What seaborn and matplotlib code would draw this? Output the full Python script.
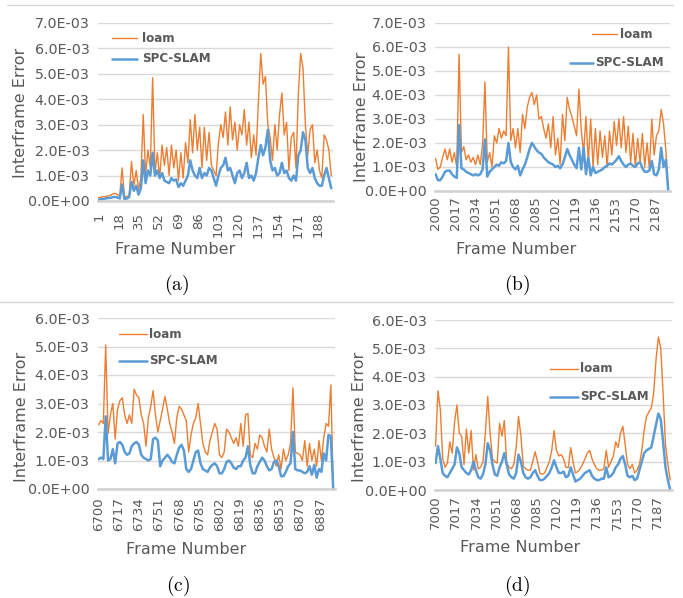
import numpy as np
import pandas as pd
import matplotlib
matplotlib.use("Agg")
import matplotlib.pyplot as plt
from matplotlib.lines import Line2D
from matplotlib.ticker import FuncFormatter
import seaborn as sns

sns.set_style("white")
plt.rcParams["font.family"] = ["DejaVu Sans"]
plt.rcParams["mathtext.fontset"] = "cm"

W, H = 683, 598
ORANGE = "#ED7D31"
BLUE = "#5B9BD5"
TXT = "#595959"
GRID = "#D9D9D9"

# interframe error, in units of 1E-03, one value every 2 frames
a_loam = [0.13, 0.15, 0.17, 0.18, 0.20, 0.22, 0.28, 0.30, 0.25, 0.20,
          1.30, 0.15, 0.18, 0.20, 1.55, 0.60, 1.20, 0.45, 0.90, 3.40,
          1.00, 2.00, 1.30, 4.85, 1.10, 1.90, 0.90, 2.20, 1.40, 2.10,
          1.00, 2.20, 1.30, 2.00, 0.80, 1.90, 0.90, 2.30, 1.50, 3.20,
          1.90, 3.40, 2.00, 2.90, 1.30, 2.90, 1.60, 2.70, 1.40, 1.20,
          1.00, 2.30, 3.00, 2.50, 3.50, 2.20, 3.70, 2.40, 3.10, 2.00,
          3.00, 2.60, 3.60, 2.20, 3.10, 1.70, 2.60, 1.80, 3.90, 5.80,
          4.60, 4.90, 3.00, 2.50, 1.60, 3.00, 2.00, 3.40, 4.25, 2.60,
          3.10, 1.20, 2.50, 2.70, 1.30, 4.20, 5.80, 5.20, 3.00, 1.80,
          2.80, 3.00, 1.50, 2.00, 1.20, 0.90, 2.60, 2.40, 2.00, 1.00]
a_spc = [0.05, 0.07, 0.08, 0.10, 0.12, 0.12, 0.15, 0.16, 0.14, 0.10,
         0.65, 0.08, 0.10, 0.15, 0.75, 0.40, 0.60, 0.25, 0.50, 1.60,
         0.70, 1.20, 1.00, 1.90, 1.00, 1.20, 0.90, 1.10, 0.80, 0.75,
         0.70, 0.90, 0.80, 0.85, 0.55, 0.70, 0.60, 0.80, 1.00, 1.60,
         1.20, 1.00, 0.90, 1.30, 0.90, 1.10, 1.00, 1.30, 1.20, 0.90,
         0.60, 1.00, 1.30, 1.40, 1.70, 1.20, 1.30, 1.00, 0.70, 1.10,
         1.20, 0.90, 1.10, 1.50, 0.90, 1.00, 0.80, 1.10, 1.70, 2.20,
         1.80, 2.10, 2.80, 1.60, 1.20, 1.30, 1.00, 1.10, 1.50, 1.10,
         1.20, 0.90, 0.80, 1.00, 0.80, 1.80, 2.00, 2.70, 2.40, 1.30,
         1.10, 1.30, 0.90, 0.70, 0.60, 0.60, 1.00, 1.30, 0.90, 0.50]

b_loam = [1.35, 0.90, 1.00, 1.40, 1.75, 1.30, 1.75, 1.20, 1.60, 1.00,
          5.70, 1.60, 1.85, 1.30, 1.50, 1.20, 1.40, 1.10, 1.50, 1.10,
          1.95, 4.55, 1.20, 1.60, 1.00, 2.30, 2.00, 2.60, 2.20, 2.50,
          2.30, 6.00, 2.10, 2.60, 1.80, 2.60, 1.60, 3.20, 2.60, 3.50,
          3.90, 4.10, 3.60, 4.00, 3.00, 3.10, 2.60, 2.20, 2.80, 1.80,
          3.10, 1.50, 2.20, 1.10, 3.20, 2.10, 3.90, 3.40, 3.10, 2.70,
          2.30, 4.25, 2.50, 1.60, 3.10, 1.20, 3.00, 1.00, 2.60, 1.10,
          2.50, 1.40, 2.30, 1.00, 2.50, 1.50, 2.90, 1.90, 3.00, 1.80,
          3.10, 1.60, 2.70, 1.20, 2.40, 1.00, 2.20, 1.20, 2.40, 1.00,
          2.00, 0.90, 3.00, 1.50, 2.30, 2.50, 3.40, 2.80, 1.70, 0.00]
b_spc = [0.70, 0.45, 0.45, 0.60, 0.80, 0.85, 0.85, 0.70, 0.60, 0.55,
         2.75, 0.95, 0.90, 0.80, 0.75, 0.70, 0.65, 0.70, 0.65, 0.70,
         0.90, 2.15, 0.60, 0.80, 0.90, 1.00, 1.10, 1.05, 1.20, 1.15,
         1.25, 2.00, 1.20, 1.00, 0.90, 1.05, 0.65, 0.90, 1.10, 1.40,
         1.75, 2.00, 1.85, 1.70, 1.60, 1.55, 1.40, 1.30, 1.20, 1.15,
         1.10, 1.00, 1.05, 0.95, 1.10, 1.40, 1.75, 1.50, 1.30, 1.10,
         0.95, 1.80, 0.90, 1.80, 0.70, 1.40, 0.65, 1.00, 0.75, 0.80,
         0.85, 0.90, 1.00, 1.05, 1.15, 1.10, 1.20, 1.30, 1.45, 1.25,
         1.10, 1.00, 1.10, 1.15, 1.05, 1.00, 1.15, 1.20, 0.95, 0.80,
         0.80, 0.85, 1.25, 0.70, 0.65, 0.90, 1.80, 1.00, 1.30, 0.00]

c_loam = [2.25, 2.40, 2.30, 5.05, 1.95, 2.60, 3.00, 1.75, 2.80, 3.10,
          3.20, 2.60, 2.30, 2.60, 2.30, 3.50, 3.30, 3.20, 2.60, 2.30,
          1.50, 2.50, 2.90, 3.45, 2.60, 2.00, 2.40, 2.80, 3.25, 2.80,
          2.30, 2.00, 1.60, 2.50, 2.90, 2.80, 2.60, 2.40, 1.30, 1.90,
          2.30, 2.50, 3.00, 2.30, 1.60, 1.30, 1.20, 1.70, 2.00, 2.30,
          2.10, 1.20, 1.10, 1.30, 2.10, 2.00, 1.80, 1.60, 1.80, 1.50,
          2.30, 1.50, 2.60, 2.65, 1.20, 1.10, 1.60, 1.40, 1.90, 1.80,
          1.50, 1.30, 2.10, 1.40, 1.10, 0.80, 1.20, 0.70, 1.40, 1.00,
          1.20, 1.60, 3.55, 1.30, 1.25, 1.20, 1.00, 1.70, 0.80, 1.60,
          1.00, 1.40, 0.80, 1.70, 1.00, 1.80, 2.30, 2.20, 3.65, 0.00]
c_spc = [1.05, 1.10, 1.05, 2.55, 1.00, 1.05, 1.40, 0.90, 1.60, 1.65,
         1.55, 1.30, 1.20, 1.25, 1.50, 1.60, 1.65, 1.55, 1.20, 1.10,
         1.05, 1.00, 1.05, 1.75, 1.80, 1.70, 0.80, 1.00, 1.10, 1.20,
         1.10, 0.95, 0.90, 1.20, 1.45, 1.55, 1.35, 0.70, 0.60, 0.70,
         1.00, 1.30, 1.35, 0.90, 0.70, 0.65, 0.60, 0.75, 0.85, 0.90,
         0.80, 0.55, 0.55, 0.70, 0.95, 1.00, 0.90, 0.75, 0.70, 0.80,
         0.80, 1.00, 1.10, 1.50, 0.85, 0.55, 0.55, 0.80, 0.95, 1.10,
         1.00, 0.80, 0.65, 0.70, 0.95, 1.00, 0.80, 0.45, 0.45, 0.60,
         0.80, 0.90, 2.00, 0.70, 0.65, 0.65, 0.60, 0.55, 0.60, 0.80,
         0.50, 0.85, 0.40, 0.70, 0.60, 1.25, 1.00, 1.90, 1.85, 0.00]

d_loam = [1.55, 3.50, 2.85, 1.10, 0.80, 0.95, 1.70, 1.30, 2.40, 3.00,
          2.00, 1.90, 0.90, 2.15, 1.30, 2.10, 0.70, 1.25, 0.75, 0.80,
          1.00, 2.00, 3.30, 2.00, 1.10, 1.00, 0.95, 2.35, 1.90, 2.45,
          0.95, 0.80, 0.75, 0.90, 1.50, 2.60, 1.90, 0.85, 0.75, 0.70,
          0.70, 1.00, 1.35, 1.00, 0.60, 0.55, 0.60, 0.80, 1.00, 1.40,
          2.10, 1.40, 1.20, 1.25, 1.10, 0.80, 0.80, 1.50, 1.00, 0.60,
          0.65, 0.75, 0.90, 1.10, 1.30, 1.40, 1.10, 0.90, 0.75, 0.70,
          0.70, 0.75, 1.40, 0.80, 1.00, 1.20, 1.70, 1.50, 2.00, 2.25,
          1.60, 0.90, 0.75, 0.90, 0.60, 0.70, 0.90, 1.40, 2.10, 2.60,
          2.75, 2.90, 3.40, 4.60, 5.40, 5.00, 3.40, 1.60, 0.90, 0.35]
d_spc = [0.95, 1.55, 1.10, 0.60, 0.50, 0.45, 0.60, 0.75, 0.90, 1.50,
         1.30, 0.80, 0.70, 0.60, 0.55, 0.70, 1.00, 0.70, 0.45, 0.40,
         0.55, 0.90, 1.65, 1.40, 0.90, 0.55, 0.50, 0.80, 1.00, 1.30,
         0.90, 0.55, 0.45, 0.40, 0.60, 1.25, 1.00, 0.60, 0.45, 0.40,
         0.45, 0.60, 0.70, 0.50, 0.35, 0.35, 0.40, 0.50, 0.60, 0.80,
         1.05, 0.80, 0.60, 0.60, 0.65, 0.45, 0.50, 0.80, 0.55, 0.30,
         0.35, 0.40, 0.50, 0.60, 0.65, 0.70, 0.50, 0.40, 0.35, 0.35,
         0.40, 0.40, 0.80, 0.45, 0.50, 0.60, 0.80, 0.90, 1.10, 1.20,
         0.90, 0.50, 0.45, 0.50, 0.35, 0.40, 0.70, 1.00, 1.30, 1.40,
         1.45, 1.50, 1.90, 2.30, 2.70, 2.50, 1.70, 0.80, 0.35, 0.00]

first_frames = [1, 2000, 6700, 7000]
y_max = [7, 7, 6, 6]
captions = ["(a)", "(b)", "(c)", "(d)"]
series = [(a_loam, a_spc), (b_loam, b_spc), (c_loam, c_spc), (d_loam, d_spc)]

# layout in pixels: axes box (left, right, top, bottom), legend spots, labels
boxes = [(98, 333, 23, 201), (435, 670, 23, 191), (98, 335, 318, 489), (435, 672, 320, 490)]
xtick_pad = [8, 4, 6, 4]
legends = [[(112, 137, 38, 142), (112, 137, 59, 142)],
           [(592, 617, 34, 620), (570, 593, 63, 595)],
           [(119, 147, 334, 149), (119, 147, 361, 149)],
           [(550, 578, 369, 580), (550, 578, 397, 580)]]
ylab_pos = [(21, 113), (361, 117), (22, 417), (360, 417)]
xlab_pos = [(175, 250), (516, 249), (186, 549), (520, 548)]
cap_pos = [(177, 285), (517, 285), (178, 586), (517, 586)]

fig = plt.figure(figsize=(W / 100, H / 100), dpi=100)


def fx(px):
    return px / W


def fy(py):
    return 1 - py / H


# light panel separators
for yy, x0, x1 in [(5, 7, 673), (302, 0, 673)]:
    fig.add_artist(Line2D([fx(x0), fx(x1)], [fy(yy), fy(yy)], color=GRID, lw=1))

for p in range(4):
    l, r, t, b = boxes[p]
    ax = fig.add_axes([fx(l), fy(b), fx(r) - fx(l), fy(t) - fy(b)])
    loam, spc = series[p]
    start = first_frames[p]
    df = pd.DataFrame({
        "frame": start + 2 * np.arange(len(loam)),
        "loam": np.array(loam) * 1e-3,
        "SPC-SLAM": np.array(spc) * 1e-3,
    })
    sns.lineplot(data=df, x="frame", y="loam", ax=ax, color=ORANGE, lw=1.0)
    sns.lineplot(data=df, x="frame", y="SPC-SLAM", ax=ax, color=BLUE, lw=1.8)

    ax.set_xlim(start - 0.5, start + 199.5)
    ax.set_ylim(0, y_max[p] * 1e-3)
    ticks = [start + 17 * j for j in range(12)]
    ax.set_xticks(ticks)
    ax.set_xticklabels([str(t_) for t_ in ticks], rotation=90)
    ax.set_yticks(np.arange(0, y_max[p] + 1) * 1e-3)
    ax.yaxis.set_major_formatter(FuncFormatter(lambda v, pos: f"{v:.1E}"))
    ax.tick_params(length=0, labelcolor=TXT)
    ax.tick_params(axis="y", labelsize=10.3, pad=6)
    ax.tick_params(axis="x", labelsize=9.5, pad=xtick_pad[p])
    ax.grid(axis="y", color=GRID, lw=1)
    ax.set_axisbelow(True)
    ax.set_xlabel("")
    ax.set_ylabel("")
    for s in ["top", "right", "left"]:
        ax.spines[s].set_visible(False)
    ax.spines["bottom"].set_color("#D0D0D0")
    ax.spines["bottom"].set_linewidth(1.8)

    # legend entries
    for (x0, x1, yy, tx), col, lw, name in zip(legends[p], [ORANGE, BLUE], [1.0, 1.8], ["loam", "SPC-SLAM"]):
        fig.add_artist(Line2D([fx(x0), fx(x1)], [fy(yy), fy(yy)], color=col, lw=lw))
        fig.text(fx(tx), fy(yy), name, fontsize=8.6, fontweight="bold", color=TXT, va="center", ha="left")

    fig.text(fx(ylab_pos[p][0]), fy(ylab_pos[p][1]), "Interframe Error", rotation=90,
             fontsize=11.5, color=TXT, ha="center", va="center")
    fig.text(fx(xlab_pos[p][0]), fy(xlab_pos[p][1]), "Frame Number",
             fontsize=11.5, color=TXT, ha="center", va="center")
    fig.text(fx(cap_pos[p][0]), fy(cap_pos[p][1]), r"$\mathrm{" + captions[p] + "}$",
             fontsize=14, color="black", ha="center", va="center")

fig.savefig("out.png", dpi=100)
